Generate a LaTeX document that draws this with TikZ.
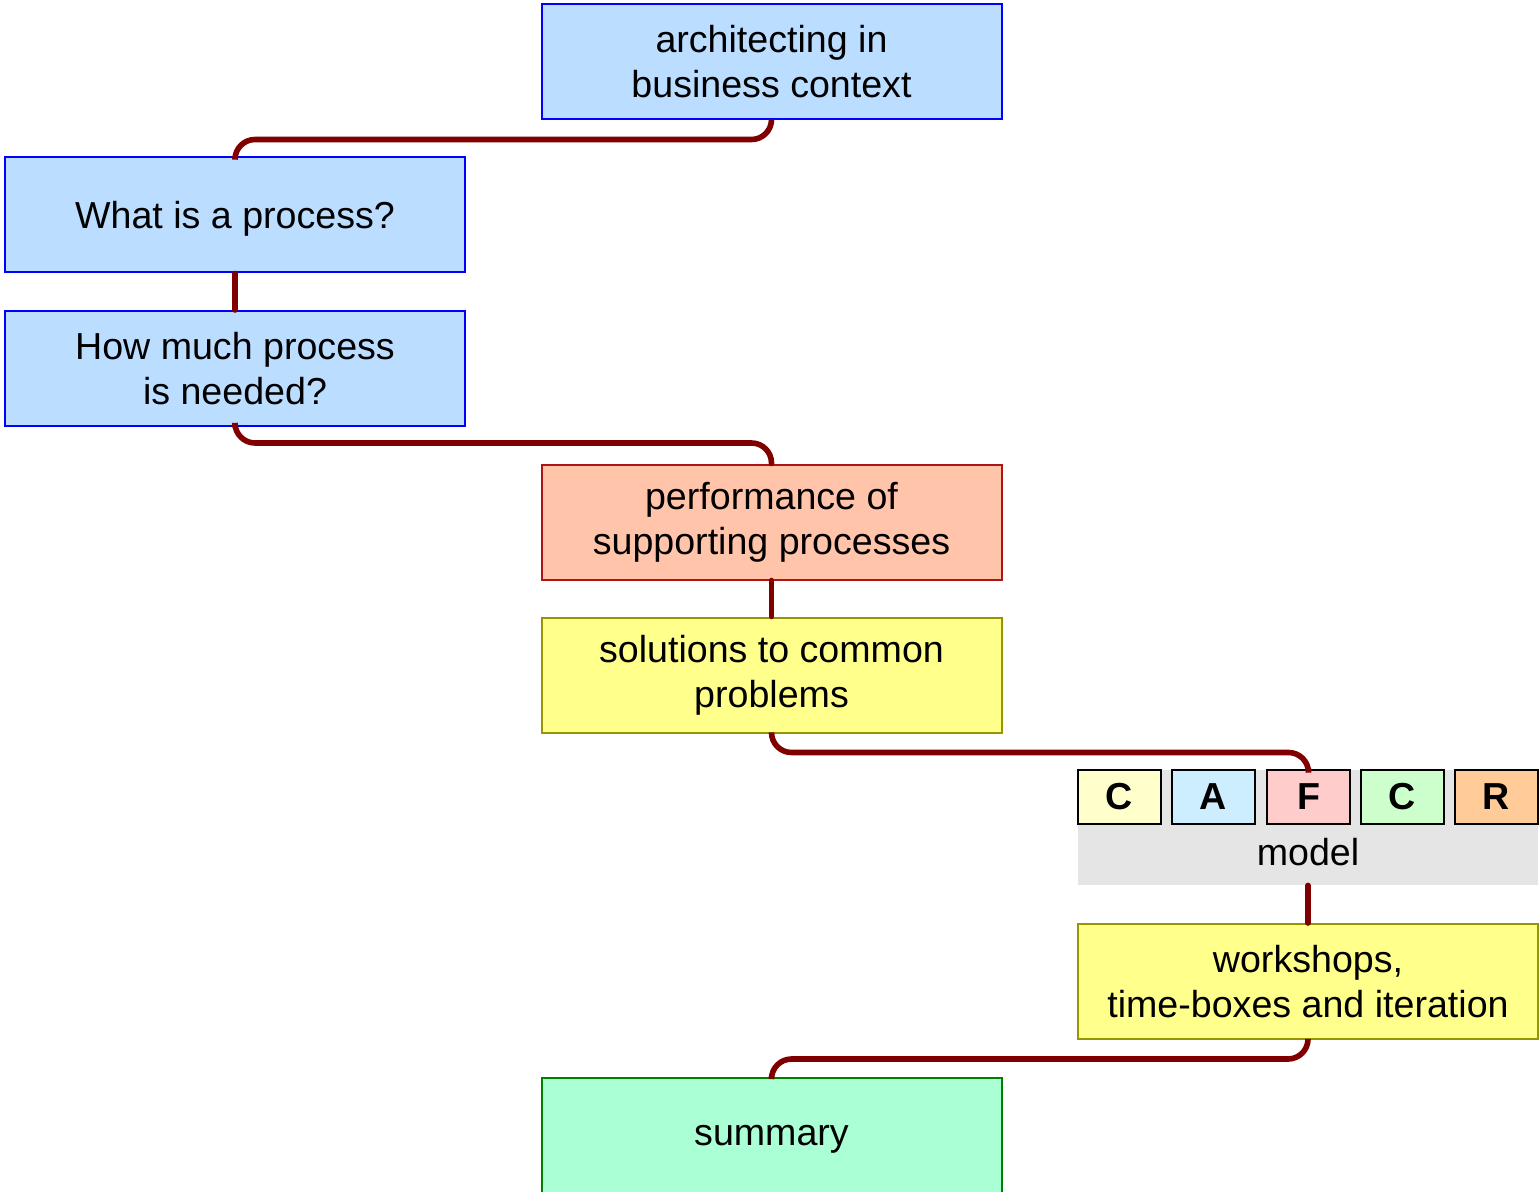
\documentclass[tikz,border=0pt]{standalone}
\usepackage{fontspec}
\setmainfont{Liberation Sans}
\definecolor{boxblue}{RGB}{187,221,255}
\definecolor{boxred}{RGB}{255,196,170}
\definecolor{edgered}{RGB}{175,20,20}
\definecolor{boxyellow}{RGB}{255,255,140}
\definecolor{edgeyellow}{RGB}{150,150,0}
\definecolor{boxgreen}{RGB}{170,255,212}
\definecolor{edgegreen}{RGB}{0,128,0}
\definecolor{linkred}{RGB}{128,0,0}
\definecolor{modelgray}{RGB}{229,229,229}
\definecolor{cafC}{RGB}{255,255,204}
\definecolor{cafA}{RGB}{204,238,255}
\definecolor{cafF}{RGB}{255,204,204}
\definecolor{cafCC}{RGB}{204,255,204}
\definecolor{cafR}{RGB}{255,204,153}
\tikzset{
  topic/.style={draw, line width=1pt, inner sep=0pt, minimum width=230pt,
    minimum height=57.5pt, align=center,
    font=\fontsize{18.8}{22.5}\selectfont},
  link/.style={draw=linkred, line width=2.8pt, line cap=round, rounded corners=10pt},
  letterbox/.style={draw=black, line width=1pt, inner sep=0pt, minimum width=41.5pt,
    minimum height=27pt, font=\fontsize{18.8}{22.5}\selectfont\bfseries}
}
\begin{document}
\begin{tikzpicture}[x=0.5pt,y=-0.5pt]
\useasboundingbox (0,0) rectangle (1540,1192);

\node[topic, fill=boxblue, draw=blue] (arch) at (771.5,62) {architecting in\\business context};
\node[topic, fill=boxblue, draw=blue, text depth=0pt] (what) at (235,215) {What is a process?};
\node[topic, fill=boxblue, draw=blue] (much) at (235,368.5) {How much process\\is needed?};
\node[topic, fill=boxred, draw=edgered] (perf) at (771.5,522) {performance of\\supporting processes};
\node[topic, fill=boxyellow, draw=edgeyellow] (sol) at (771.5,675) {solutions to common\\problems};

% CAFCR model
\node[fill=modelgray, inner sep=0pt, minimum width=230pt, minimum height=57.5pt] (model) at (1308,827.5) {};
\foreach \x/\c/\l/\n in {1119.5/cafC/C/c1, 1213.5/cafA/A/a, 1308.5/cafF/F/f, 1402.5/cafCC/C/c2, 1496.5/cafR/R/r}
  \node[letterbox, fill=\c] (\n) at (\x,797) {\l};
\node[font=\fontsize{18.8}{22.5}\selectfont] (modeltext) at (1308,852) {model};

\node[topic, fill=boxyellow, draw=edgeyellow] (work) at (1308,981.5) {workshops,\\time-boxes and iteration};
\node[topic, fill=boxgreen, draw=edgegreen, text depth=0pt] (sum) at (771.5,1135) {summary};

\draw[link] (arch.south) -- ++(0,19) -| (what.north);
\draw[link] (what.south) -- (much.north);
\draw[link] (much.south) -- ++(0,16) -| (perf.north);
\draw[link] (perf.south) -- (sol.north);
\draw[link] (sol.south) -- ++(0,19) -| (f.north);
\draw[link] (model.south) -- (work.north);
\draw[link] (work.south) -- ++(0,19) -| (sum.north);
\end{tikzpicture}
\end{document}
